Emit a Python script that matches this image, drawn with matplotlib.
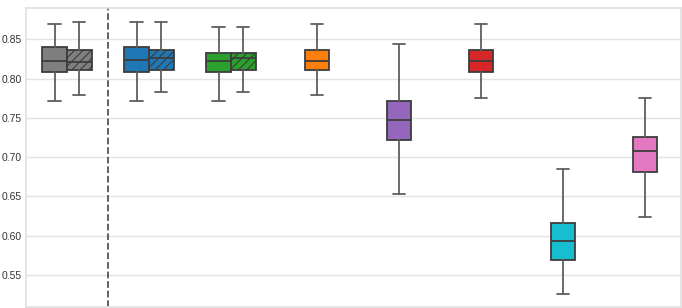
import matplotlib
matplotlib.use("Agg")
import matplotlib.pyplot as plt
import seaborn as sns

# box statistics
positions = [-0.2, 0.1, 0.8, 1.1, 1.8, 2.1, 3.0, 4.0, 5.0, 6.0, 7.0]
colors = ["#7f7f7f", "#7f7f7f", "#1f77b4", "#1f77b4", "#2ca02c", "#2ca02c",
          "#ff7f0e", "#9467bd", "#d62728", "#17becf", "#e377c2"]
hatched = [False, True, False, True, False, True, False, False, False, False, False]
whislo = [0.7717, 0.7786, 0.7717, 0.7824, 0.7717, 0.7824, 0.7790, 0.6527, 0.7751, 0.5255, 0.6233]
q1 = [0.8079, 0.8112, 0.8080, 0.8112, 0.8080, 0.8112, 0.8112, 0.7212, 0.8080, 0.5694, 0.6811]
med = [0.8223, 0.8210, 0.8240, 0.8258, 0.8223, 0.8261, 0.8223, 0.7467, 0.8223, 0.5927, 0.7079]
q3 = [0.8400, 0.8363, 0.8398, 0.8363, 0.8329, 0.8330, 0.8363, 0.7717, 0.8363, 0.6160, 0.7250]
whishi = [0.8690, 0.8725, 0.8725, 0.8725, 0.8657, 0.8657, 0.8690, 0.8440, 0.8690, 0.6846, 0.7751]
separator_x = 0.45

sns.set_style("whitegrid", {"grid.color": "#e3e3e3", "axes.edgecolor": "#e0e0e0"})
plt.rcParams['font.family'] = ['Liberation Sans', 'DejaVu Sans']
plt.rcParams['hatch.color'] = '#3d3d3d'
plt.rcParams['hatch.linewidth'] = 0.8

fig = plt.figure(figsize=(6.82, 3.08), dpi=100)
ax = fig.add_axes([26 / 682, 1 / 308, 655 / 682, 299 / 308])

stats = []
for i in range(len(positions)):
    stats.append(dict(med=med[i], q1=q1[i], q3=q3[i],
                      whislo=whislo[i], whishi=whishi[i], fliers=[]))

bp = ax.bxp(stats, positions=positions, widths=0.3, patch_artist=True,
            showfliers=False, manage_ticks=False,
            boxprops=dict(edgecolor='#3d3d3d', linewidth=1.3),
            medianprops=dict(color='#3d3d3d', linewidth=1.3),
            whiskerprops=dict(color='#5f5f5f', linewidth=1.3),
            capprops=dict(color='#5f5f5f', linewidth=1.3))

for box, c, h in zip(bp['boxes'], colors, hatched):
    box.set_facecolor(c)
    if h:
        box.set_hatch('////')

ax.axvline(separator_x, color='#555555', linestyle='--', linewidth=1.3)

ax.set_xlim(-0.549, 7.439)
ax.set_ylim(0.509, 0.890)
ax.set_yticks([0.55, 0.60, 0.65, 0.70, 0.75, 0.80, 0.85])
ax.set_xticks([])
ax.grid(axis='x', visible=False)
ax.grid(axis='y', linewidth=1.0)
for s in ax.spines.values():
    s.set_linewidth(1.2)
ax.tick_params(axis='y', labelsize=7.5, length=0, pad=3.0, colors='#333333')

fig.savefig("out.png", dpi=100)
